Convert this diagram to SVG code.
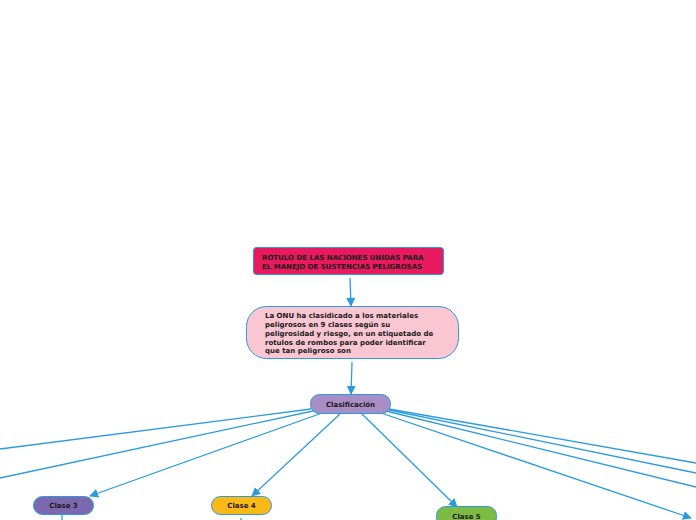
<svg xmlns="http://www.w3.org/2000/svg" width="696" height="520" viewBox="0 0 696 520">
<defs>
<style>
.t{font-family:"DejaVu Sans",Verdana,sans-serif;font-weight:bold;font-size:7px;fill:#1a1a1a}
.c{text-anchor:middle}
.e{fill:none;stroke:#2A9BE0;stroke-width:1.3}
.n{stroke:#2A9BE0;stroke-width:1}
</style>
<marker id="ah" viewBox="0 0 10 10" refX="9" refY="5" markerWidth="9" markerHeight="9" markerUnits="userSpaceOnUse" orient="auto">
<path d="M0,0 L10,5 L0,10 z" fill="#2A9BE0"/>
</marker>
</defs>
<rect width="696" height="520" fill="#ffffff"/>
<g id="connectors">
<path class="e" d="M350,278 L351,306" marker-end="url(#ah)"/>
<path class="e" d="M352,362 L351,394" marker-end="url(#ah)"/>
<path class="e" d="M311,409 L0,449"/>
<path class="e" d="M313,411 L0,478"/>
<path class="e" d="M322,413 L90,496" marker-end="url(#ah)"/>
<path class="e" d="M340,414 L252,496" marker-end="url(#ah)"/>
<path class="e" d="M361,413 L457,507" marker-end="url(#ah)"/>
<path class="e" d="M389,409 L696,463"/>
<path class="e" d="M389,410 L696,473"/>
<path class="e" d="M386,411 L696,487"/>
<path class="e" d="M381,413 L691,518" marker-end="url(#ah)"/>
<path class="e" d="M62,515 L62,520"/>
<path class="e" d="M241,518 L241,520"/>
</g>
<g id="title">
<rect class="n" x="253.5" y="247.5" width="190" height="27" rx="3" fill="#E8195E"/>
<text class="t" x="262" y="259.5">ROTULO DE LAS NACIONES UNIDAS PARA</text>
<text class="t" x="262" y="268.5">EL MANEJO DE SUSTENCIAS PELIGROSAS</text>
</g>
<g id="onu">
<rect class="n" x="246.5" y="306.5" width="212" height="52" rx="20" fill="#F9C6D1"/>
<text class="t" x="265" y="318">La ONU ha clasidicado a los materiales</text>
<text class="t" x="265" y="327">peligrosos en 9 clases según su</text>
<text class="t" x="265" y="336">peligrosidad y riesgo, en un etiquetado de</text>
<text class="t" x="265" y="345">rotulos de rombos para poder identificar</text>
<text class="t" x="265" y="353">que tan peligroso son</text>
</g>
<g id="clasificacion">
<rect class="n" x="310.5" y="394.5" width="80" height="19" rx="9" fill="#A98EC5"/>
<text class="t c" x="350.5" y="406.5">Clasificación</text>
</g>
<g id="clase3">
<rect class="n" x="33.5" y="496.5" width="60" height="18" rx="9" fill="#7B68AE"/>
<text class="t c" x="63.5" y="508">Clase 3</text>
</g>
<g id="clase4">
<rect class="n" x="211.5" y="496.5" width="60" height="18" rx="9" fill="#FBB918"/>
<text class="t c" x="241.5" y="508">Clase 4</text>
</g>
<g id="clase5">
<rect class="n" x="436.5" y="506.5" width="60" height="20" rx="9" fill="#7DBB42"/>
<text class="t c" x="466.5" y="518.5">Clase 5</text>
</g>
</svg>
